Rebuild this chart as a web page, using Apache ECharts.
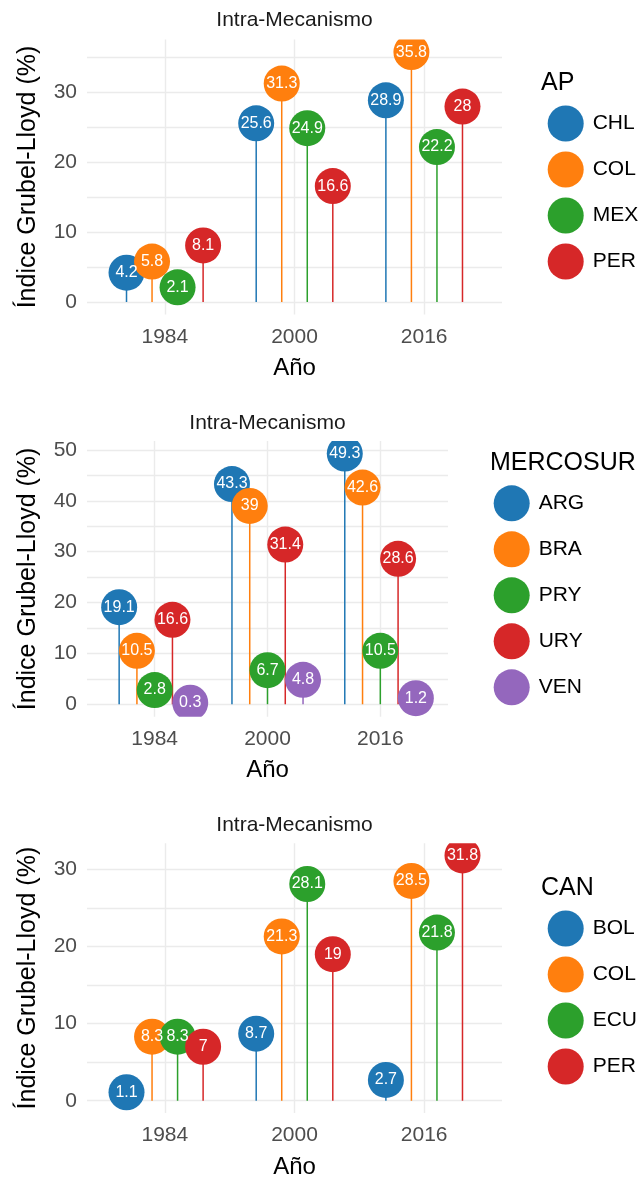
<!DOCTYPE html>
<html>
<head>
<meta charset="utf-8">
<script src="https://cdn.jsdelivr.net/npm/echarts@6/dist/echarts.min.js"></script>
<style>
  body { margin: 0; background: #fff; }
  .panel { position: absolute; left: 0; width: 639px; }
</style>
</head>
<body>
<div id="ap" class="panel" style="top:0;height:400px"></div>
<div id="mercosur" class="panel" style="top:400px;height:400px"></div>
<div id="can" class="panel" style="top:800px;height:384px"></div>
<script>
// años y marcas del eje x
var anios = [1984, 2000, 2016];
var xTicks = [1984, 2000, 2016];

// AP
var apPaises = ["CHL", "COL", "MEX", "PER"];
var apCHL = [4.2, 25.6, 28.9];
var apCOL = [5.8, 31.3, 35.8];
var apMEX = [2.1, 24.9, 22.2];
var apPER = [8.1, 16.6, 28];
var apYTicks = [0, 10, 20, 30];
var apYGrid = [0, 5, 10, 15, 20, 25, 30, 35];

// MERCOSUR
var mercoPaises = ["ARG", "BRA", "PRY", "URY", "VEN"];
var mercoARG = [19.1, 43.3, 49.3];
var mercoBRA = [10.5, 39, 42.6];
var mercoPRY = [2.8, 6.7, 10.5];
var mercoURY = [16.6, 31.4, 28.6];
var mercoVEN = [0.3, 4.8, 1.2];
var mercoYTicks = [0, 10, 20, 30, 40, 50];
var mercoYGrid = [0, 5, 10, 15, 20, 25, 30, 35, 40, 45, 50];

// CAN
var canPaises = ["BOL", "COL", "ECU", "PER"];
var canBOL = [1.1, 8.7, 2.7];
var canCOL = [8.3, 21.3, 28.5];
var canECU = [8.3, 28.1, 21.8];
var canPER = [7, 19, 31.8];
var canYTicks = [0, 10, 20, 30];
var canYGrid = [0, 5, 10, 15, 20, 25, 30];

var colores = ["#1f77b4", "#ff7f0e", "#2ca02c", "#d62728", "#9467bd"];
var fuente = "'Liberation Sans', Arial, sans-serif";
// ancho total del dodge (en años)
var anchoDodge = 12.6;

function panel(domId, titulo, paises, valores, yTicks, yGrid, lay) {
  var chart = echarts.init(document.getElementById(domId));
  var n = paises.length;
  var paso = anchoDodge / n;
  var maximo = 0;
  valores.forEach(function (vs) {
    vs.forEach(function (v) { if (v > maximo) maximo = v; });
  });
  var series = [];
  paises.forEach(function (pais, i) {
    var desp = (i - (n - 1) / 2) * paso;
    var color = colores[i];
    var datos = valores[i].map(function (v, j) {
      return [anios[j] + desp, v];
    });
    // palito
    series.push({
      type: "custom",
      name: pais + "-tallo",
      silent: true,
      clip: true,
      z: 1,
      data: datos,
      renderItem: function (params, api) {
        var arriba = api.coord([api.value(0), api.value(1)]);
        var base = api.coord([api.value(0), 0]);
        return {
          type: "line",
          shape: { x1: base[0], y1: base[1], x2: arriba[0], y2: arriba[1] },
          style: { stroke: color, lineWidth: 1.5 }
        };
      }
    });
    // punto
    series.push({
      type: "custom",
      name: pais,
      silent: true,
      clip: true,
      z: 2,
      itemStyle: { color: color },
      data: datos,
      renderItem: function (params, api) {
        var p = api.coord([api.value(0), api.value(1)]);
        return {
          type: "circle",
          shape: { cx: p[0], cy: p[1], r: 18 },
          style: { fill: color }
        };
      }
    });
  });
  // etiquetas encima de todos los puntos
  paises.forEach(function (pais, i) {
    var desp = (i - (n - 1) / 2) * paso;
    series.push({
      type: "custom",
      name: pais + "-etiqueta",
      silent: true,
      clip: false,
      z: 3,
      data: valores[i].map(function (v, j) { return [anios[j] + desp, v]; }),
      renderItem: function (params, api) {
        var p = api.coord([api.value(0), api.value(1)]);
        return {
          type: "text",
          x: p[0],
          y: p[1],
          style: {
            text: String(api.value(1)),
            fill: "#ffffff",
            font: "16px " + fuente,
            align: "center",
            verticalAlign: "middle"
          }
        };
      }
    });
  });

  var centroX = lay.left + (639 - lay.left - lay.right) / 2;
  var option = {
    animation: false,
    textStyle: { fontFamily: fuente },
    graphic: [
      {
        type: "text",
        x: centroX,
        y: lay.tituloY,
        style: {
          text: titulo,
          font: "21px " + fuente,
          fill: "#1a1a1a",
          align: "center",
          verticalAlign: "middle"
        }
      },
      {
        type: "text",
        x: lay.leyTituloX,
        y: lay.leyTituloY,
        style: {
          text: lay.leyTitulo,
          font: "25px " + fuente,
          fill: "#000",
          align: "left",
          verticalAlign: "middle"
        }
      }
    ],
    grid: { left: lay.left, right: lay.right, top: lay.top, height: lay.height },
    legend: {
      data: paises,
      orient: "vertical",
      left: lay.leyLeft,
      top: lay.leyTop,
      padding: 0,
      icon: "circle",
      itemWidth: 36,
      itemHeight: 36,
      itemGap: 10,
      selectedMode: false,
      textStyle: { fontSize: 21, color: "#000", padding: [0, 0, 0, 4] }
    },
    xAxis: {
      type: "value",
      min: 1974.4,
      max: 2025.6,
      axisLine: { show: false },
      axisTick: { show: false, customValues: xTicks },
      axisLabel: {
        customValues: xTicks,
        fontSize: 21,
        color: "#4d4d4d",
        margin: 12,
        formatter: function (v) { return String(v); }
      },
      splitLine: { show: true, lineStyle: { color: "#ebebeb", width: 1.4 } },
      name: "Año",
      nameLocation: "middle",
      nameGap: 42,
      nameTextStyle: { fontSize: 24, color: "#000" }
    },
    yAxis: {
      type: "value",
      min: -0.05 * maximo,
      max: 1.05 * maximo,
      axisLine: { show: false },
      axisTick: { show: false, customValues: yGrid },
      axisLabel: { customValues: yTicks, fontSize: 21, color: "#4d4d4d", margin: 10 },
      splitLine: { show: true, lineStyle: { color: "#ebebeb", width: 1.4 } },
      name: "Índice Grubel-Lloyd (%)",
      nameLocation: "middle",
      nameRotate: 90,
      nameGap: 46,
      nameTextStyle: { fontSize: 25, color: "#000" }
    },
    series: series
  };
  chart.setOption(option);
}

panel("ap", "Intra-Mecanismo", apPaises, [apCHL, apCOL, apMEX, apPER], apYTicks, apYGrid, {
  left: 87, right: 137, top: 39.6, height: 274.9, tituloY: 20,
  leyTitulo: "AP", leyTituloX: 541, leyTituloY: 83, leyLeft: 547.7, leyTop: 105.5
});
panel("mercosur", "Intra-Mecanismo", mercoPaises, [mercoARG, mercoBRA, mercoPRY, mercoURY, mercoVEN], mercoYTicks, mercoYGrid, {
  left: 87, right: 191, top: 41, height: 275.8, tituloY: 23,
  leyTitulo: "MERCOSUR", leyTituloX: 490, leyTituloY: 63, leyLeft: 493.7, leyTop: 85.3
});
panel("can", "Intra-Mecanismo", canPaises, [canBOL, canCOL, canECU, canPER], canYTicks, canYGrid, {
  left: 87, right: 137, top: 43.2, height: 276.7, tituloY: 25,
  leyTitulo: "CAN", leyTituloX: 541, leyTituloY: 88, leyLeft: 547.7, leyTop: 110.5
});
</script>
</body>
</html>
